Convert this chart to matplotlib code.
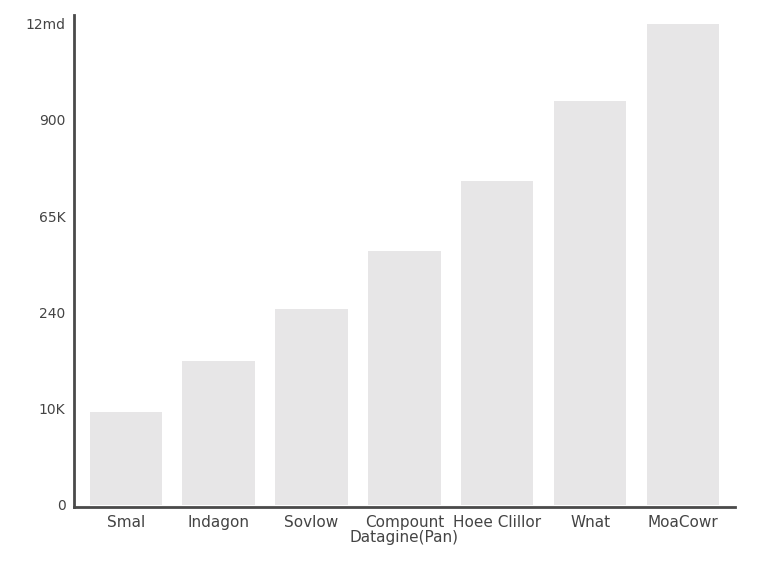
import matplotlib
matplotlib.use("Agg")
import matplotlib.pyplot as plt

# categories and values (in tick units)
categories = ["Smal", "Indagon", "Sovlow", "Compount\nDatagine(Pan)",
              "Hoee Clillor", "Wnat", "MoaCowr"]
values = [0.97, 1.50, 2.04, 2.64, 3.37, 4.20, 5.00]
ytick_labels = ["0", "10K", "240", "65K", "900", "12md"]

fig = plt.figure(figsize=(7.68, 5.76), dpi=100)
ax = fig.add_axes([0.096, 0.12, 0.861, 0.854])

ax.bar(range(len(categories)), values, width=0.78, color="#e7e6e7")

ax.set_xlim(-0.56, 6.56)
ax.set_ylim(-0.02, 5.09)
ax.set_xticks(range(len(categories)))
ax.set_xticklabels(categories, fontsize=11, color="#444444", linespacing=0.95)
ax.set_yticks(range(len(ytick_labels)))
ax.set_yticklabels(ytick_labels, fontsize=10, color="#444444")
ax.tick_params(length=0, pad=6)

for s in ["top", "right"]:
    ax.spines[s].set_visible(False)
for s in ["left", "bottom"]:
    ax.spines[s].set_color("#4a4a4a")
    ax.spines[s].set_linewidth(2)

fig.savefig("out.png", dpi=100, facecolor="white")
